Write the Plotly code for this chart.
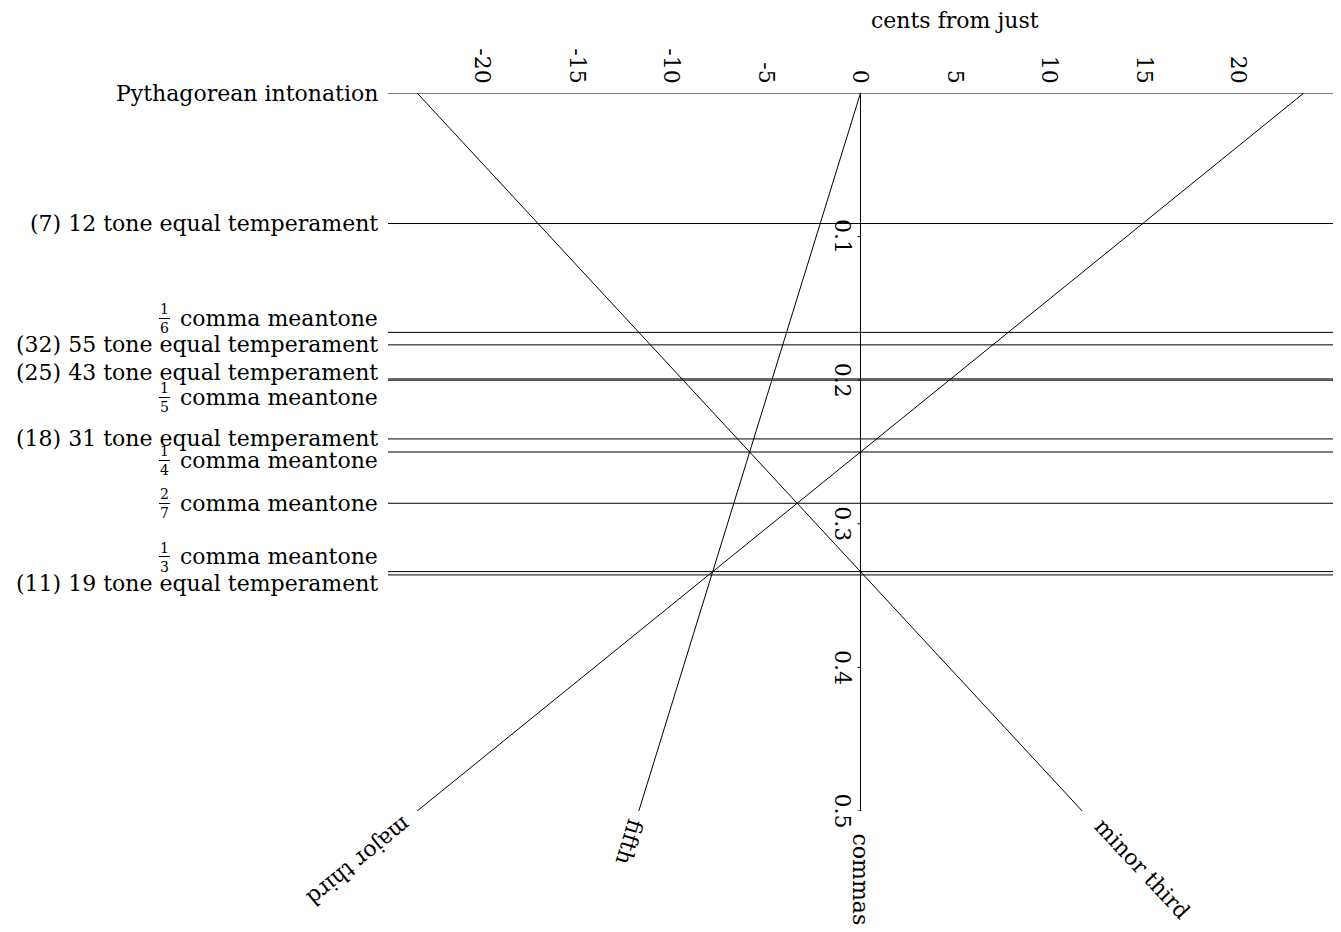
import plotly.graph_objects as go

# tunings, as fraction of a syntonic comma the fifth is tempered by
tuning_names = [
    "Pythagorean intonation",
    "(7) 12 tone equal temperament",
    "comma meantone",
    "(32) 55 tone equal temperament",
    "(25) 43 tone equal temperament",
    "comma meantone",
    "(18) 31 tone equal temperament",
    "comma meantone",
    "comma meantone",
    "comma meantone",
    "(11) 19 tone equal temperament",
]
tuning_fractions = [None, None, ("1", "6"), None, None, ("1", "5"),
                    None, ("1", "4"), ("2", "7"), ("1", "3"), None]
tuning_commas = [0, 0.0909, 0.1667, 0.1754, 0.1991, 0.2,
                 0.2409, 0.25, 0.2857, 0.3333, 0.3356]

# interval lines: cents from just at 0 and 0.5 commas
interval_commas = [0, 0.5]
fifth_cents = [0, -11.73]
major_third_cents = [23.46, -23.46]
minor_third_cents = [-23.46, 11.73]

cent_ticks = [-20, -15, -10, -5, 0, 5, 10, 15, 20]
comma_ticks = [0.1, 0.2, 0.3, 0.4, 0.5]

FONT = "DejaVu Serif"
x_range = [-25, 25]

# label nudges (px) so the close labels don't collide
label_shift = [0, 0, 14, 0, 6, -17, 0, -8, 0, 15, -9]

fig = go.Figure()
line_style = dict(color="black", width=1)

for c in tuning_commas:
    fig.add_trace(go.Scatter(x=x_range, y=[c, c], mode="lines", line=line_style,
                             hoverinfo="skip"))

# comma axis at x = 0
fig.add_trace(go.Scatter(x=[0, 0], y=[0, 0.5], mode="lines", line=line_style, hoverinfo="skip"))

for cents in [fifth_cents, major_third_cents, minor_third_cents]:
    fig.add_trace(go.Scatter(x=cents, y=interval_commas, mode="lines", line=line_style,
                             hoverinfo="skip"))

annotations = []
shapes = []
for name, frac, c, dy in zip(tuning_names, tuning_fractions, tuning_commas, label_shift):
    annotations.append(dict(text=name, xref="paper", x=0, xanchor="right", xshift=-8,
                            y=c, yref="y", yanchor="middle", yshift=dy,
                            showarrow=False, font=dict(size=22)))
    if frac:
        fx = -224
        annotations.append(dict(text=frac[0], xref="paper", x=0, xanchor="center", xshift=fx,
                                y=c, yref="y", yanchor="middle", yshift=dy + 9,
                                showarrow=False, font=dict(size=14)))
        annotations.append(dict(text=frac[1], xref="paper", x=0, xanchor="center", xshift=fx,
                                y=c, yref="y", yanchor="middle", yshift=dy - 10,
                                showarrow=False, font=dict(size=14)))
        # fraction bar
        annotations.append(dict(text=" ", xref="paper", x=0, xanchor="center", xshift=fx,
                                y=c, yref="y", yanchor="middle", yshift=dy,
                                width=11, height=1, borderpad=0, borderwidth=0,
                                bgcolor="black", showarrow=False, font=dict(size=1)))

# comma ticks and labels on the x = 0 axis
for t in comma_ticks:
    shapes.append(dict(type="line", xref="x", xsizemode="pixel", xanchor=0, x0=-3, x1=0,
                       yref="y", y0=t, y1=t, line=dict(color="black", width=1)))
    annotations.append(dict(text=str(t), x=0, y=t, xshift=-18, textangle=90,
                            showarrow=False, font=dict(size=22)))

# interval names at the end of each line
end_labels = [
    ("fifth", fifth_cents[-1], 107, -9, -31),
    ("major third", major_third_cents[-1], 141, -58, -51),
    ("minor third", minor_third_cents[-1], 47, 60, -57),
    ("commas", 0, 90, 0, -68),
]
for text, x, ang, sx, sy in end_labels:
    annotations.append(dict(text=text, x=x, y=0.5, xshift=sx, yshift=sy, textangle=ang,
                            showarrow=False, font=dict(size=22)))

annotations.append(dict(text="cents from just", x=5, y=1, yref="paper", yanchor="middle",
                        yshift=73, showarrow=False, font=dict(size=22)))

fig.update_layout(
    width=1341, height=932,
    margin=dict(l=388, r=8, t=93, b=121),
    plot_bgcolor="white", paper_bgcolor="white",
    showlegend=False,
    font=dict(family=FONT, color="black"),
    annotations=annotations,
    shapes=shapes,
    xaxis=dict(range=x_range, side="top", tickvals=cent_ticks,
               ticktext=[str(t) for t in cent_ticks], tickangle=90,
               showgrid=False, zeroline=False, showline=False, ticks="",
               ticklabelstandoff=5, tickfont=dict(size=22)),
    yaxis=dict(range=[0.5, 0], visible=False),
)

fig.write_html("out.html", config={"displayModeBar": False},
               post_script="document.body.style.margin='0';")
